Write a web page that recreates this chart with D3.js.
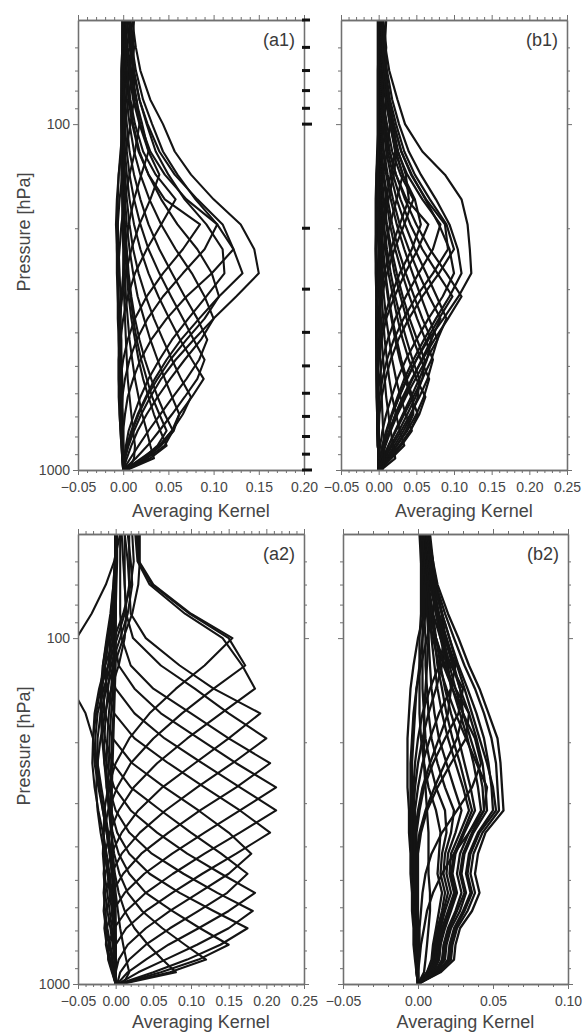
<!DOCTYPE html>
<html>
<head>
<meta charset="utf-8">
<script src="https://cdn.jsdelivr.net/npm/d3@7"></script>
<style>
  body { margin: 0; background: #fff; }
  svg { display: block; font-family: "Liberation Sans", Arial, sans-serif; }
</style>
</head>
<body>
<svg id="chart" width="586" height="1033"></svg>
<script>
// pressure grid [hPa] shared by every kernel row
const levels = [50, 60, 70, 85, 100, 120, 140, 165, 195, 230, 270, 315, 365, 420, 480, 545, 615, 690, 770, 850, 925, 1000];

// x tick labels
const xTicksA1 = [-0.05, 0.00, 0.05, 0.10, 0.15, 0.20];
const xTicksWide = [-0.05, 0.00, 0.05, 0.10, 0.15, 0.20, 0.25];
const xTicksB2 = [-0.05, 0.00, 0.05, 0.10];

// pressure ticks
const pressureMajor = [100, 1000];
const pressureMinor = [60, 70, 80, 90, 200, 300, 400, 500, 600, 700, 800, 900];

// averaging kernel rows (one value per level)
const kernelsA1 = [
  [0.012,0.010,0.007,0.003,0,-0.003,-0.005,-0.006,-0.006,-0.005,-0.004,-0.003,-0.003,-0.002,-0.002,-0.001,-0.001,-0.001,0,0,0,0],
  [0.008,0.012,0.010,0.006,0.002,-0.002,-0.005,-0.007,-0.008,-0.007,-0.006,-0.005,-0.004,-0.003,-0.002,-0.002,-0.001,-0.001,0,0,0,0],
  [0.004,0.008,0.012,0.012,0.008,0.003,-0.001,-0.004,-0.006,-0.007,-0.007,-0.006,-0.005,-0.004,-0.003,-0.002,-0.002,-0.001,-0.001,0,0,0],
  [0.002,0.005,0.009,0.015,0.018,0.013,0.007,0.002,-0.002,-0.004,-0.006,-0.006,-0.006,-0.005,-0.004,-0.003,-0.002,-0.001,-0.001,0,0,0],
  [0.002,0.004,0.008,0.014,0.021,0.028,0.020,0.012,0.006,0.002,0,-0.002,-0.003,-0.004,-0.004,-0.003,-0.003,-0.002,-0.002,-0.001,-0.001,0],
  [0.001,0.003,0.006,0.011,0.018,0.028,0.040,0.030,0.018,0.009,0.003,-0.001,-0.004,-0.005,-0.005,-0.005,-0.004,-0.003,-0.002,-0.001,-0.001,0],
  [0.001,0.002,0.004,0.008,0.013,0.022,0.036,0.058,0.042,0.026,0.013,0.005,0,-0.003,-0.005,-0.005,-0.005,-0.004,-0.003,-0.002,-0.001,0],
  [0,0.002,0.003,0.006,0.010,0.017,0.028,0.046,0.085,0.066,0.044,0.026,0.013,0.005,0,-0.003,-0.004,-0.004,-0.003,-0.002,-0.001,0],
  [0.002,0.004,0.007,0.012,0.019,0.030,0.046,0.070,0.104,0.090,0.066,0.044,0.027,0.015,0.007,0.002,-0.001,-0.002,-0.002,-0.001,0,0],
  [0.004,0.007,0.011,0.018,0.027,0.040,0.057,0.082,0.110,0.122,0.098,0.070,0.048,0.031,0.019,0.011,0.005,0.002,0,0,0,0],
  [0.006,0.009,0.012,0.018,0.026,0.036,0.050,0.068,0.092,0.110,0.112,0.092,0.072,0.054,0.040,0.028,0.019,0.012,0.006,0.003,0.001,0],
  [0.010,0.014,0.019,0.030,0.044,0.057,0.075,0.100,0.130,0.145,0.150,0.125,0.100,0.078,0.058,0.042,0.030,0.020,0.012,0.006,0.002,0],
  [0.007,0.010,0.014,0.022,0.032,0.044,0.060,0.080,0.104,0.122,0.132,0.106,0.084,0.064,0.048,0.035,0.025,0.016,0.009,0.004,0.001,0],
  [0.001,0.002,0.004,0.007,0.011,0.018,0.028,0.042,0.060,0.082,0.098,0.106,0.090,0.070,0.052,0.038,0.026,0.017,0.010,0.005,0.002,0],
  [0,0.001,0.002,0.004,0.007,0.012,0.019,0.029,0.042,0.058,0.076,0.090,0.100,0.086,0.068,0.052,0.038,0.026,0.016,0.009,0.004,0],
  [0,0,0.001,0.002,0.004,0.007,0.012,0.019,0.028,0.040,0.054,0.068,0.082,0.093,0.084,0.070,0.055,0.041,0.028,0.017,0.008,0],
  [0,0,0,0.001,0.002,0.004,0.007,0.012,0.019,0.028,0.040,0.053,0.066,0.078,0.090,0.082,0.068,0.054,0.040,0.027,0.014,0],
  [0,0,0,0,0.001,0.002,0.004,0.007,0.012,0.019,0.028,0.039,0.051,0.063,0.076,0.089,0.076,0.062,0.054,0.040,0.020,0.001],
  [0,0,0,0,0,0.001,0.002,0.004,0.007,0.011,0.017,0.025,0.034,0.044,0.054,0.064,0.075,0.066,0.054,0.040,0.022,0.001],
  [0,0,0,0,0,0,0.001,0.002,0.004,0.007,0.011,0.016,0.023,0.030,0.038,0.046,0.054,0.062,0.056,0.042,0.024,0.002],
  [0,0,0,0,0,0,0,0.001,0.002,0.004,0.006,0.009,0.013,0.018,0.024,0.031,0.038,0.046,0.055,0.046,0.026,0.002],
  [0,0,0,0,0,0,0,0,0.001,0.003,0.005,0.008,0.011,0.015,0.020,0.026,0.032,0.040,0.048,0.038,0.022,0.002],
  [-0.001,-0.001,-0.002,-0.002,-0.002,-0.001,-0.001,0,0.001,0.002,0.004,0.006,0.009,0.013,0.017,0.022,0.028,0.034,0.041,0.048,0.030,0.003],
  [-0.001,-0.001,-0.002,-0.002,-0.002,-0.002,-0.001,-0.001,0,0.001,0.002,0.003,0.005,0.007,0.010,0.013,0.017,0.021,0.026,0.030,0.034,0.004],
  [0,-0.001,-0.001,-0.002,-0.002,-0.002,-0.002,-0.001,-0.001,0,0,0.001,0.002,0.003,0.004,0.005,0.007,0.009,0.011,0.013,0.012,0.006]
];

const kernelsB1 = [
  [0.010,0.008,0.005,0.002,0,-0.002,-0.003,-0.003,-0.003,-0.003,-0.002,-0.002,-0.002,-0.001,-0.001,-0.001,0,0,0,0,0,0],
  [0.006,0.010,0.008,0.005,0.002,-0.001,-0.003,-0.004,-0.004,-0.004,-0.003,-0.003,-0.002,-0.002,-0.001,-0.001,-0.001,0,0,0,0,0],
  [0.003,0.006,0.010,0.010,0.007,0.003,0,-0.002,-0.003,-0.004,-0.004,-0.003,-0.003,-0.002,-0.002,-0.001,-0.001,-0.001,0,0,0,0],
  [0.002,0.004,0.007,0.012,0.015,0.011,0.006,0.002,-0.001,-0.003,-0.003,-0.003,-0.003,-0.003,-0.002,-0.002,-0.001,-0.001,0,0,0,0],
  [0.002,0.003,0.006,0.011,0.017,0.022,0.016,0.010,0.005,0.001,-0.001,-0.002,-0.003,-0.003,-0.003,-0.002,-0.002,-0.001,-0.001,-0.001,0,0],
  [0.004,0.006,0.009,0.014,0.019,0.024,0.020,0.013,0.007,0.002,-0.001,-0.002,-0.003,-0.003,-0.002,-0.002,-0.001,-0.001,-0.001,0,0,0],
  [0.001,0.002,0.005,0.009,0.015,0.023,0.032,0.024,0.015,0.007,0.002,-0.001,-0.003,-0.003,-0.003,-0.003,-0.002,-0.002,-0.001,-0.001,0,0],
  [0.003,0.005,0.008,0.012,0.018,0.026,0.036,0.040,0.028,0.016,0.007,0.002,-0.001,-0.002,-0.002,-0.002,-0.002,-0.001,-0.001,0,0,0],
  [0.001,0.002,0.003,0.006,0.011,0.018,0.029,0.046,0.034,0.021,0.011,0.004,0,-0.002,-0.003,-0.003,-0.003,-0.002,-0.002,-0.001,0,0],
  [0.002,0.004,0.006,0.010,0.015,0.022,0.032,0.048,0.056,0.044,0.028,0.016,0.007,0.002,-0.001,-0.002,-0.002,-0.002,-0.001,-0.001,0,0],
  [0,0.001,0.003,0.005,0.008,0.014,0.023,0.037,0.066,0.052,0.035,0.021,0.010,0.004,0,-0.002,-0.002,-0.002,-0.002,-0.001,0,0],
  [0.002,0.003,0.006,0.010,0.016,0.025,0.038,0.058,0.082,0.072,0.053,0.036,0.022,0.012,0.005,0.001,-0.001,-0.001,-0.001,-0.001,0,0],
  [0.003,0.005,0.008,0.013,0.020,0.030,0.043,0.063,0.088,0.092,0.072,0.050,0.033,0.020,0.011,0.005,0.001,-0.001,-0.001,0,0,0],
  [0.004,0.006,0.009,0.015,0.023,0.034,0.048,0.068,0.090,0.100,0.080,0.058,0.040,0.026,0.016,0.009,0.004,0.001,0,0,0,0],
  [0.003,0.005,0.008,0.013,0.020,0.030,0.044,0.062,0.080,0.094,0.100,0.085,0.066,0.050,0.036,0.025,0.017,0.010,0.005,0.002,0,0],
  [0.006,0.009,0.014,0.025,0.035,0.058,0.088,0.110,0.118,0.121,0.123,0.106,0.086,0.066,0.050,0.037,0.027,0.018,0.011,0.006,0.002,0],
  [0.005,0.008,0.011,0.018,0.027,0.040,0.056,0.076,0.094,0.105,0.110,0.094,0.076,0.060,0.046,0.034,0.025,0.017,0.010,0.005,0.002,0],
  [0.001,0.002,0.003,0.006,0.009,0.015,0.023,0.035,0.050,0.068,0.090,0.110,0.092,0.074,0.058,0.044,0.032,0.022,0.014,0.007,0.003,0],
  [0,0.001,0.002,0.004,0.007,0.012,0.019,0.029,0.042,0.058,0.078,0.098,0.080,0.064,0.050,0.038,0.027,0.018,0.011,0.005,0.002,0],
  [0,0.001,0.002,0.003,0.006,0.010,0.016,0.024,0.035,0.048,0.063,0.077,0.090,0.078,0.063,0.049,0.036,0.025,0.016,0.009,0.004,0],
  [0,0,0.001,0.002,0.004,0.007,0.012,0.019,0.028,0.040,0.053,0.067,0.082,0.070,0.057,0.045,0.034,0.024,0.015,0.008,0.003,0],
  [0,0,0.001,0.002,0.003,0.006,0.010,0.016,0.024,0.034,0.045,0.056,0.067,0.078,0.070,0.058,0.046,0.034,0.023,0.013,0.006,0],
  [0,0,0,0.001,0.002,0.004,0.007,0.012,0.018,0.026,0.036,0.047,0.058,0.070,0.064,0.054,0.043,0.032,0.022,0.013,0.006,0],
  [0,0,0,0.001,0.002,0.003,0.006,0.010,0.015,0.022,0.031,0.041,0.051,0.062,0.072,0.065,0.054,0.042,0.030,0.018,0.008,0],
  [0,0,0,0,0.001,0.002,0.004,0.007,0.011,0.017,0.024,0.032,0.041,0.051,0.061,0.058,0.049,0.038,0.027,0.016,0.007,0],
  [0,0,0,0,0.001,0.002,0.003,0.006,0.010,0.015,0.021,0.029,0.037,0.046,0.056,0.067,0.060,0.050,0.038,0.024,0.011,0],
  [0,0,0,0,0,0.001,0.002,0.004,0.007,0.011,0.016,0.022,0.029,0.037,0.045,0.054,0.052,0.044,0.033,0.021,0.010,0.001],
  [0,0,0,0,0,0.001,0.002,0.003,0.006,0.009,0.013,0.019,0.025,0.032,0.040,0.050,0.062,0.054,0.042,0.028,0.013,0.001],
  [0,0,0,0,0,0,0.001,0.002,0.004,0.006,0.009,0.013,0.018,0.024,0.030,0.037,0.045,0.046,0.036,0.024,0.012,0.001],
  [0,0,0,0,0,0,0.001,0.002,0.003,0.005,0.008,0.012,0.017,0.022,0.028,0.035,0.043,0.052,0.042,0.028,0.014,0.001],
  [0,0,0,0,0,0,0,0.001,0.002,0.003,0.005,0.007,0.010,0.014,0.018,0.023,0.029,0.036,0.044,0.030,0.015,0.001],
  [-0.001,-0.001,-0.001,-0.001,-0.001,-0.001,0,0,0.001,0.002,0.003,0.004,0.006,0.008,0.011,0.014,0.018,0.023,0.028,0.034,0.017,0.002],
  [-0.001,-0.001,-0.001,-0.001,-0.001,-0.001,-0.001,0,0,0.001,0.001,0.002,0.003,0.004,0.006,0.008,0.010,0.013,0.016,0.019,0.022,0.003],
  [0,0,-0.001,-0.001,-0.001,-0.001,-0.001,-0.001,0,0,0,0.001,0.001,0.002,0.002,0.003,0.004,0.005,0.006,0.007,0.008,0.005]
];

const kernelsA2 = [
  [0.032,0.032,0.030,0.022,0.010,-0.002,-0.012,-0.020,-0.024,-0.024,-0.021,-0.017,-0.012,-0.008,-0.005,-0.003,-0.002,-0.001,0,0,0,0],
  [0.022,0.024,0.020,0.010,-0.002,-0.014,-0.022,-0.028,-0.030,-0.028,-0.023,-0.017,-0.012,-0.008,-0.005,-0.003,-0.002,-0.001,0,0,0,0],
  [0.016,0.020,0.022,0.016,0.006,-0.006,-0.016,-0.024,-0.027,-0.026,-0.022,-0.016,-0.010,-0.006,-0.003,-0.002,-0.001,0,0,0,0,0],
  [0.012,0.016,0.018,0.012,0.002,-0.010,-0.020,-0.026,-0.030,-0.031,-0.028,-0.023,-0.017,-0.012,-0.008,-0.005,-0.003,-0.002,-0.001,0,0,0],
  [0.008,0.010,0.012,0.014,0.012,0.004,-0.006,-0.014,-0.020,-0.024,-0.026,-0.024,-0.020,-0.015,-0.010,-0.006,-0.003,-0.002,-0.001,0,0,0],
  [0.006,-0.002,-0.013,-0.032,-0.052,-0.064,-0.058,-0.040,-0.030,-0.024,-0.019,-0.014,-0.010,-0.006,-0.003,-0.001,0,0,0,0,0,0],
  [0.030,0.031,0.050,0.100,0.155,0.118,0.080,0.045,0.018,0.000,-0.010,-0.015,-0.016,-0.014,-0.011,-0.008,-0.005,-0.003,-0.002,-0.001,0,0],
  [0.028,0.030,0.048,0.098,0.150,0.172,0.130,0.088,0.050,0.020,0.002,-0.010,-0.016,-0.017,-0.015,-0.011,-0.008,-0.005,-0.003,-0.001,0,0],
  [0.026,0.029,0.045,0.092,0.142,0.168,0.185,0.140,0.095,0.055,0.024,0.004,-0.008,-0.014,-0.016,-0.014,-0.011,-0.007,-0.004,-0.002,-0.001,0],
  [0.018,0.018,0.018,0.020,0.040,0.085,0.130,0.192,0.150,0.105,0.062,0.030,0.008,-0.006,-0.014,-0.016,-0.014,-0.011,-0.007,-0.004,-0.002,0],
  [0.012,0.012,0.012,0.014,0.023,0.060,0.105,0.150,0.200,0.155,0.108,0.066,0.032,0.008,-0.006,-0.014,-0.016,-0.013,-0.009,-0.005,-0.002,0],
  [0.006,0.006,0.006,0.006,0.008,0.020,0.050,0.100,0.150,0.205,0.160,0.112,0.070,0.034,0.010,-0.005,-0.013,-0.015,-0.012,-0.007,-0.003,0],
  [0.002,0.002,0.001,0.000,-0.002,0.004,0.025,0.060,0.110,0.160,0.213,0.165,0.118,0.075,0.038,0.012,-0.004,-0.012,-0.013,-0.009,-0.004,0],
  [0,0,-0.002,-0.004,-0.008,-0.008,0.000,0.025,0.065,0.115,0.165,0.213,0.165,0.118,0.076,0.040,0.014,-0.002,-0.010,-0.010,-0.005,0],
  [0,-0.001,-0.003,-0.006,-0.010,-0.014,-0.012,-0.002,0.025,0.070,0.118,0.165,0.205,0.160,0.115,0.075,0.040,0.014,0,-0.006,-0.004,0],
  [0,-0.001,-0.003,-0.007,-0.012,-0.017,-0.018,-0.014,-0.004,0.022,0.065,0.110,0.150,0.180,0.150,0.110,0.072,0.040,0.016,0.004,0,0.001],
  [0,-0.001,-0.002,-0.006,-0.011,-0.017,-0.020,-0.019,-0.014,-0.004,0.020,0.060,0.100,0.140,0.175,0.148,0.110,0.072,0.040,0.018,0.006,0.002],
  [0,0,-0.002,-0.005,-0.009,-0.014,-0.018,-0.020,-0.018,-0.012,-0.002,0.020,0.055,0.095,0.140,0.185,0.150,0.110,0.070,0.040,0.016,0.002],
  [0,0,-0.001,-0.003,-0.006,-0.010,-0.014,-0.017,-0.018,-0.015,-0.009,0.000,0.018,0.048,0.090,0.135,0.182,0.150,0.108,0.066,0.030,0.003],
  [0,0,0,-0.002,-0.004,-0.007,-0.010,-0.013,-0.015,-0.015,-0.012,-0.006,0.002,0.018,0.045,0.085,0.130,0.175,0.139,0.095,0.050,0.004],
  [0,0,0,-0.001,-0.002,-0.004,-0.006,-0.009,-0.011,-0.012,-0.012,-0.009,-0.004,0.004,0.018,0.040,0.075,0.112,0.150,0.110,0.060,0.005],
  [0,0,0,0,-0.001,-0.002,-0.004,-0.006,-0.008,-0.009,-0.010,-0.009,-0.006,-0.002,0.005,0.016,0.035,0.062,0.092,0.120,0.072,0.006],
  [0,0,0,0,0,-0.001,-0.002,-0.003,-0.005,-0.006,-0.007,-0.007,-0.006,-0.004,-0.001,0.004,0.012,0.025,0.043,0.062,0.080,0.008],
  [0,0,0,0,0,0,-0.001,-0.002,-0.003,-0.004,-0.005,-0.005,-0.005,-0.004,-0.002,0,0.003,0.006,0.010,0.014,0.018,0.010]
];

const kernelsB2 = [
  [0.008,0.010,0.008,0.004,0.000,-0.003,-0.005,-0.006,-0.007,-0.007,-0.007,-0.006,-0.006,-0.005,-0.005,-0.004,-0.004,-0.003,-0.003,-0.002,-0.001,0],
  [0.006,0.010,0.012,0.010,0.006,0.002,-0.001,-0.003,-0.004,-0.005,-0.005,-0.005,-0.005,-0.004,-0.004,-0.003,-0.003,-0.002,-0.002,-0.001,-0.001,0],
  [0.005,0.006,0.006,0.005,0.003,0.001,-0.001,-0.002,-0.003,-0.004,-0.004,-0.004,-0.004,-0.004,-0.003,-0.003,-0.003,-0.002,-0.002,-0.001,-0.001,0],
  [0.004,0.005,0.006,0.007,0.007,0.006,0.005,0.004,0.004,0.004,0.005,0.006,0.007,0.007,0.007,0.008,0.008,0.007,0.006,0.005,0.004,0],
  [0.006,0.009,0.012,0.016,0.018,0.016,0.012,0.007,0.003,0,-0.002,-0.003,-0.003,-0.003,-0.003,-0.002,-0.002,-0.002,-0.001,-0.001,0,0],
  [0.004,0.007,0.011,0.016,0.018,0.014,0.008,0.003,0,-0.002,-0.003,-0.003,-0.003,-0.003,-0.003,-0.002,-0.002,-0.002,-0.001,-0.001,0,0],
  [0.004,0.006,0.009,0.012,0.016,0.020,0.022,0.020,0.014,0.008,0.003,0,-0.002,-0.002,-0.002,-0.002,-0.001,-0.001,-0.001,0,0,0],
  [0.003,0.005,0.008,0.013,0.019,0.025,0.022,0.014,0.008,0.003,0,-0.002,-0.002,-0.002,-0.002,-0.002,-0.001,-0.001,-0.001,0,0,0],
  [0.002,0.004,0.006,0.010,0.015,0.022,0.030,0.027,0.018,0.010,0.004,0.001,-0.001,-0.001,-0.001,-0.001,-0.001,0,0,0,0,0],
  [0.005,0.007,0.010,0.014,0.019,0.024,0.028,0.030,0.026,0.018,0.011,0.005,0.001,-0.001,-0.001,-0.001,-0.001,0,0,0,0,0],
  [0.002,0.003,0.005,0.008,0.012,0.018,0.025,0.034,0.032,0.022,0.013,0.006,0.002,0,0,0,0,0,0,0,0,0],
  [0.002,0.003,0.005,0.008,0.012,0.017,0.023,0.030,0.038,0.042,0.036,0.026,0.016,0.009,0.005,0.003,0.002,0.001,0.001,0,0,0],
  [0.002,0.003,0.004,0.007,0.010,0.014,0.019,0.025,0.032,0.039,0.046,0.044,0.034,0.024,0.016,0.010,0.006,0.004,0.002,0.001,0,0],
  [0.007,0.010,0.013,0.020,0.027,0.034,0.041,0.047,0.053,0.055,0.056,0.057,0.045,0.040,0.038,0.041,0.036,0.028,0.025,0.024,0.015,0],
  [0.006,0.009,0.012,0.018,0.024,0.031,0.038,0.044,0.049,0.052,0.053,0.054,0.043,0.037,0.035,0.038,0.033,0.026,0.023,0.022,0.014,0],
  [0.006,0.008,0.011,0.016,0.021,0.026,0.031,0.036,0.041,0.046,0.050,0.052,0.041,0.035,0.033,0.036,0.031,0.025,0.022,0.021,0.013,0],
  [0.005,0.008,0.011,0.016,0.021,0.027,0.033,0.039,0.044,0.047,0.049,0.050,0.040,0.034,0.032,0.035,0.030,0.024,0.021,0.020,0.013,0],
  [0.005,0.007,0.010,0.014,0.018,0.023,0.028,0.034,0.039,0.043,0.045,0.046,0.037,0.031,0.029,0.032,0.028,0.022,0.019,0.018,0.012,0],
  [0.004,0.006,0.009,0.013,0.017,0.021,0.025,0.030,0.035,0.040,0.043,0.044,0.036,0.030,0.028,0.031,0.026,0.021,0.018,0.017,0.011,0],
  [0.004,0.006,0.008,0.012,0.015,0.019,0.023,0.028,0.033,0.037,0.040,0.042,0.034,0.028,0.026,0.029,0.025,0.020,0.017,0.016,0.011,0],
  [0.004,0.005,0.007,0.010,0.012,0.015,0.018,0.022,0.027,0.031,0.035,0.038,0.031,0.025,0.023,0.026,0.022,0.018,0.015,0.014,0.010,0],
  [0.003,0.005,0.007,0.009,0.011,0.013,0.016,0.019,0.023,0.028,0.032,0.036,0.030,0.024,0.022,0.025,0.021,0.017,0.015,0.014,0.010,0],
  [0.003,0.004,0.006,0.008,0.009,0.011,0.013,0.016,0.020,0.025,0.030,0.034,0.028,0.022,0.021,0.024,0.020,0.016,0.014,0.013,0.009,0],
  [0.003,0.004,0.005,0.006,0.007,0.008,0.009,0.011,0.014,0.019,0.024,0.029,0.025,0.020,0.019,0.022,0.018,0.015,0.013,0.012,0.008,0],
  [0.002,0.003,0.004,0.004,0.005,0.005,0.006,0.007,0.009,0.013,0.018,0.024,0.022,0.018,0.017,0.020,0.017,0.014,0.012,0.011,0.007,0],
  [0.002,0.002,0.003,0.003,0.003,0.003,0.003,0.004,0.005,0.008,0.012,0.018,0.019,0.016,0.015,0.018,0.016,0.013,0.011,0.010,0.006,0],
  [0.001,0.002,0.002,0.002,0.001,0.001,0.001,0.001,0.002,0.004,0.007,0.012,0.015,0.014,0.013,0.016,0.014,0.012,0.010,0.009,0.006,0]
];

// panel layout
const panels = [
  {label: '(a1)', kernels: kernelsA1, ticks: xTicksA1, left: 78, right: 304, top: 20, bottom: 470, stroke: 2.1, yTitle: true, heavyRight: true},
  {label: '(b1)', kernels: kernelsB1, ticks: xTicksWide, left: 341, right: 567, top: 20, bottom: 470, stroke: 2.2},
  {label: '(a2)', kernels: kernelsA2, ticks: xTicksWide, left: 78, right: 304, top: 534, bottom: 984, stroke: 2.1, yTitle: true},
  {label: '(b2)', kernels: kernelsB2, ticks: xTicksB2, left: 343, right: 568, top: 534, bottom: 984, stroke: 2.3}
];

const svg = d3.select('#chart');
const axisColor = '#707070',
      textColor = '#454545',
      lineColor = '#141414';

svg.append('rect').attr('width', 586).attr('height', 1033).attr('fill', '#fff');

panels.forEach((p, i) => drawPanel(p, i));

function minorTicks (major) {
  const lo = Math.round(d3.min(major) * 100), hi = Math.round(d3.max(major) * 100);
  return d3.range(lo, hi + 1).map(v => v / 100)
    .filter(v => !major.some(m => Math.abs(m - v) < 1e-9));
}

function axisLayer (transform, axis, labels) {
  const g = svg.append('g')
      .attr('transform', transform)
      .call(axis.tickSizeOuter(0));
  g.attr('color', axisColor)
    .attr('font-family', '"Liberation Sans", Arial, sans-serif')
    .attr('font-size', 14);
  g.select('.domain').attr('stroke-width', 1.3);
  g.selectAll('.tick line').attr('stroke-width', 1);
  g.selectAll('.tick text').attr('fill', textColor);
  if (!labels) g.selectAll('.tick text').remove();
  return g;
}

function drawPanel (p, i) {
  const x = d3.scaleLinear().domain(d3.extent(p.ticks)).range([p.left, p.right]),
        y = d3.scaleLog().domain([50, 1000]).range([p.top, p.bottom]);

  // curves, clipped to the plot box
  const clipId = 'clip' + i;
  svg.append('clipPath').attr('id', clipId)
    .append('rect')
      .attr('x', p.left).attr('y', p.top)
      .attr('width', p.right - p.left).attr('height', p.bottom - p.top);

  const line = d3.line()
    .x(d => x(d[1]))
    .y(d => y(d[0]));

  svg.append('g')
      .attr('clip-path', `url(#${clipId})`)
    .selectAll('path')
    .data(p.kernels)
    .join('path')
      .attr('d', k => line(levels.map((lv, j) => [lv, k[j]])))
      .attr('fill', 'none')
      .attr('stroke', lineColor)
      .attr('stroke-width', p.stroke)
      .attr('stroke-linejoin', 'round');

  const minor = minorTicks(p.ticks),
        fmt = d3.format('.2f');

  // x axes (bottom labelled, top ticks only)
  axisLayer(`translate(0,${p.bottom})`, d3.axisBottom(x).tickValues(minor).tickSize(3), false);
  axisLayer(`translate(0,${p.bottom})`, d3.axisBottom(x).tickValues(p.ticks).tickSize(5).tickPadding(7).tickFormat(fmt), true);
  axisLayer(`translate(0,${p.top})`, d3.axisTop(x).tickValues(minor).tickSize(3), false);
  axisLayer(`translate(0,${p.top})`, d3.axisTop(x).tickValues(p.ticks).tickSize(5), false);

  // y axes
  axisLayer(`translate(${p.left},0)`, d3.axisLeft(y).tickValues(pressureMinor).tickSize(3), false);
  axisLayer(`translate(${p.left},0)`, d3.axisLeft(y).tickValues(pressureMajor).tickSize(5).tickPadding(3).tickFormat(d3.format('d')), !!p.yTitle);
  axisLayer(`translate(${p.right},0)`, d3.axisRight(y).tickValues(pressureMinor).tickSize(3), false);
  axisLayer(`translate(${p.right},0)`, d3.axisRight(y).tickValues(pressureMajor).tickSize(5), false);

  // heavy black marks on the right edge of (a1)
  if (p.heavyRight) {
    svg.append('g')
      .selectAll('line')
      .data([50].concat(pressureMinor, pressureMajor))
      .join('line')
        .attr('x1', p.right - 2)
        .attr('x2', d => p.right + (pressureMajor.includes(d) ? 8 : 6))
        .attr('y1', d => y(d)).attr('y2', d => y(d))
        .attr('stroke', '#111')
        .attr('stroke-width', 3);
  }

  // titles
  svg.append('text')
      .attr('x', (p.left + p.right) / 2 + 10)
      .attr('y', Math.min(p.bottom + 47, 1028))
      .attr('text-anchor', 'middle')
      .attr('font-size', 18)
      .attr('fill', textColor)
      .text('Averaging Kernel');

  if (p.yTitle) {
    svg.append('text')
        .attr('transform', `translate(30,${(p.top + p.bottom) / 2 - 13}) rotate(-90)`)
        .attr('text-anchor', 'middle')
        .attr('font-size', 18)
        .attr('fill', textColor)
        .text('Pressure [hPa]');
  }

  svg.append('text')
      .attr('x', p.right - 9)
      .attr('y', p.top + 26)
      .attr('text-anchor', 'end')
      .attr('font-size', 18)
      .attr('fill', '#3a3a3a')
      .text(p.label);
}
</script>
</body>
</html>
